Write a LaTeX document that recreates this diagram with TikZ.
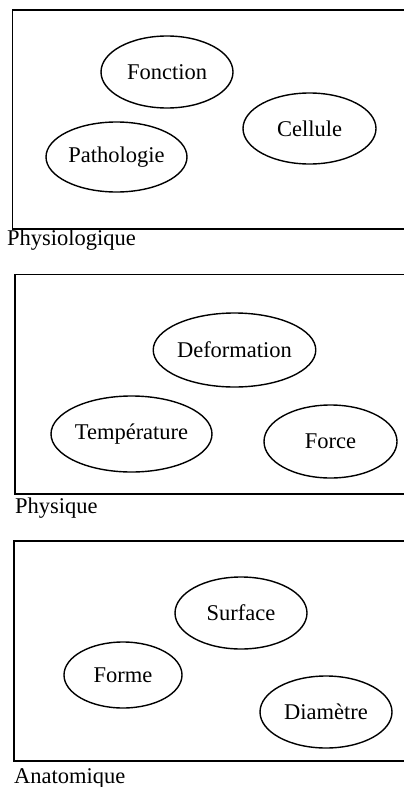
\documentclass[tikz,border=0pt]{standalone}
\usepackage{fontspec}
\setmainfont{Liberation Serif}
\usetikzlibrary{shapes.geometric}
\begin{document}
\begin{tikzpicture}[x=1pt,y=-1pt,
  oval/.style={draw,ellipse,line width=1.4pt,inner sep=0pt,font=\fontsize{22.5}{26}\selectfont},
  frame/.style={draw,line width=1.4pt},
  boxlabel/.style={anchor=base west,inner sep=0pt,font=\fontsize{22.5}{26}\selectfont}]
\useasboundingbox (0,0) rectangle (404,787);
\clip (0,0) rectangle (404,787);
% Box 1
\draw[frame] (12.5,10) rectangle (430,229);
\node[boxlabel] (physio) at (7,245) {Physiologique};
\node[oval,minimum width=132pt,minimum height=72pt] (fonction) at (167,72) {Fonction};
\node[oval,minimum width=133pt,minimum height=71pt] (cellule) at (309.5,128.5) {Cellule};
\node[oval,minimum width=141pt,minimum height=70pt] (patho) at (116.5,157) {Pathologie};
% Box 2
\draw[frame] (15,274.5) rectangle (430,494);
\node[boxlabel] (physique) at (15,513) {Physique};
\node[oval,minimum width=161pt,minimum height=74pt] (deform) at (234.5,350) {Deformation};
\node[oval,minimum width=161pt,minimum height=76pt] (temp) at (131.5,434) {Température};
\node[oval,minimum width=133pt,minimum height=73pt] (force) at (330.5,441.5) {Force};
% Box 3
\draw[frame] (14,541) rectangle (430,761);
\node[boxlabel] (anat) at (14,783) {Anatomique};
\node[oval,minimum width=132pt,minimum height=72pt] (surface) at (241,613) {Surface};
\node[oval,minimum width=118pt,minimum height=66pt] (forme) at (123,675) {Forme};
\node[oval,minimum width=132pt,minimum height=72pt] (diam) at (326,712) {Diamètre};
\end{tikzpicture}
\end{document}
